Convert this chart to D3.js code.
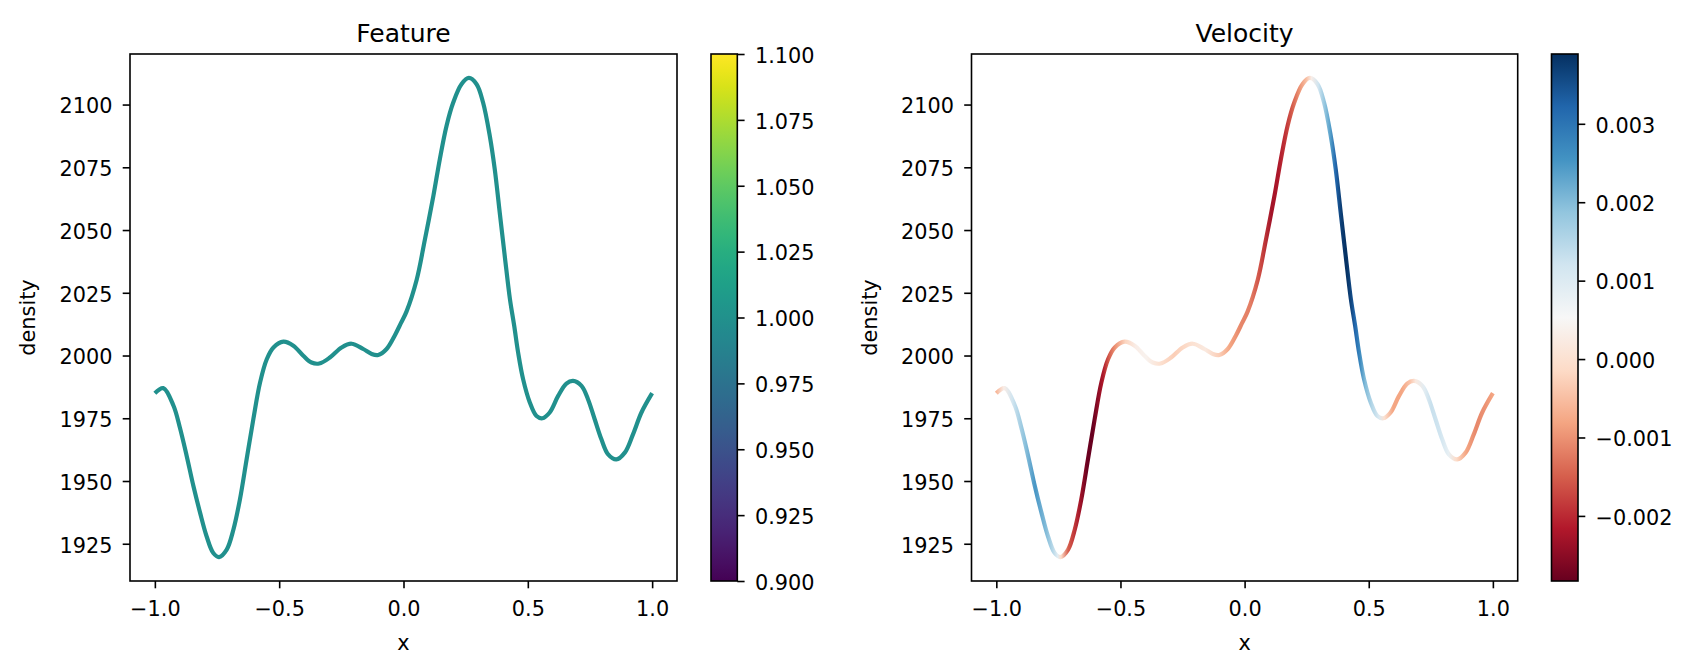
<!DOCTYPE html>
<html>
<head>
<meta charset="utf-8">
<script src="https://cdn.jsdelivr.net/npm/d3@7"></script>
<style>
  body { margin: 0; background: #fff; }
  svg { display: block; font-family: "DejaVu Sans", sans-serif; }
</style>
</head>
<body>
<script>
(function () {
  "use strict";

  // density profile
  var xs = [-1.000, -0.966, -0.925, -0.900, -0.872, -0.845, -0.818, -0.792, -0.765, -0.742,
            -0.711, -0.684, -0.658, -0.631, -0.604, -0.577, -0.550, -0.523, -0.483, -0.443,
            -0.403, -0.370, -0.339, -0.296, -0.249, -0.209, -0.162, -0.128, -0.102, -0.068,
            -0.035, -0.010, 0.012, 0.053, 0.086, 0.120, 0.146, 0.173, 0.200, 0.233,
            0.263, 0.294, 0.320, 0.347, 0.367, 0.387, 0.408, 0.428, 0.445, 0.461,
            0.481, 0.508, 0.535, 0.559, 0.588, 0.622, 0.655, 0.682, 0.716, 0.742,
            0.769, 0.796, 0.823, 0.856, 0.890, 0.923, 0.957, 1.000];
  var density = [1985.0, 1987.0, 1980.0, 1971.5, 1960.0, 1948.0, 1937.3, 1928.0, 1921.3, 1919.7,
                 1922.7, 1930.7, 1942.6, 1958.6, 1974.6, 1989.2, 1998.5, 2003.2, 2005.5, 2003.9,
                 1999.9, 1997.2, 1996.8, 1999.2, 2003.2, 2004.7, 2002.6, 2000.6, 2000.2, 2002.6,
                 2008.0, 2013.0, 2017.5, 2030.2, 2046.2, 2063.5, 2078.2, 2091.5, 2100.8, 2108.1,
                 2110.6, 2108.1, 2100.8, 2087.5, 2074.2, 2057.0, 2039.0, 2022.5, 2012.0, 2001.2,
                 1990.6, 1981.3, 1975.9, 1975.0, 1977.3, 1983.9, 1988.8, 1989.9, 1987.9, 1982.6,
                 1974.6, 1966.6, 1960.6, 1958.6, 1961.3, 1968.6, 1977.3, 1985.0];

  // velocity along x
  var velX = [-1.0, -0.97, -0.935, -0.886, -0.844, -0.80, -0.774, -0.753, -0.739, -0.711,
              -0.69, -0.662, -0.634, -0.613, -0.592, -0.571, -0.55, -0.522, -0.48, -0.438,
              -0.396, -0.34, -0.284, -0.214, -0.158, -0.102, -0.06, -0.018, 0.024, 0.066,
              0.108, 0.136, 0.164, 0.192, 0.22, 0.248, 0.269, 0.297, 0.325, 0.346,
              0.367, 0.388, 0.409, 0.43, 0.444, 0.465, 0.486, 0.514, 0.542, 0.563,
              0.598, 0.633, 0.668, 0.689, 0.724, 0.752, 0.787, 0.822, 0.852, 0.892,
              0.933, 0.968, 1.0];
  var velocity = [-0.0006, 0.0003, 0.0012, 0.0019, 0.0025, 0.0020, 0.0015, 0.0009, -0.0001, -0.0015,
                  -0.0018, -0.0023, -0.0028, -0.00283, -0.0025, -0.0022, -0.0016, -0.0010, -0.0002, 0.0003,
                  0.0004, 0.0000, -0.0003, 0.0000, 0.0002, -0.0003, -0.0008, -0.0011, -0.0012, -0.0017,
                  -0.0023, -0.0022, -0.0019, -0.0015, -0.0010, -0.0005, 0.0003, 0.0012, 0.0019, 0.0024,
                  0.0032, 0.0037, 0.00389, 0.0036, 0.0032, 0.0027, 0.0020, 0.0015, 0.0010, 0.0000,
                  -0.0008, -0.0008, -0.0004, 0.0002, 0.0009, 0.0013, 0.0012, 0.0008, -0.0001, -0.0008,
                  -0.0011, -0.0010, -0.0008];

  var featureValue = 1.0;
  var featureRange = [0.9, 1.1];

  var xTicks = [-1.0, -0.5, 0.0, 0.5, 1.0];
  var yTicks = [1925, 1950, 1975, 2000, 2025, 2050, 2075, 2100];
  var featureTicks = [0.9, 0.925, 0.95, 0.975, 1.0, 1.025, 1.05, 1.075, 1.1];
  var velocityTicks = [-0.002, -0.001, 0.0, 0.001, 0.002, 0.003];

  var rdbuColors = ["#67001f", "#b2182b", "#d6604d", "#f4a582", "#fddbc7", "#f7f7f7",
                    "#d1e5f0", "#92c5de", "#4393c3", "#2166ac", "#053061"];

  var W = 1699, H = 657,
      top = 54, bottom = 581,
      fs = 20.8, tick = 7.3, pad = 7.3;

  var svg = d3.select('body').append('svg')
      .attr('width', W)
      .attr('height', H);
  svg.append('rect').attr('width', W).attr('height', H).attr('fill', '#fff');
  var defs = svg.append('defs');

  var yPad = (d3.max(density) - d3.min(density)) * 0.05;
  var yDomain = [d3.min(density) - yPad, d3.max(density) + yPad];

  var velExtent = d3.extent(velocity);
  var rdbu = d3.scaleLinear()
      .domain(rdbuColors.map(function (c, i) { return velExtent[0] + i / 10 * (velExtent[1] - velExtent[0]); }))
      .range(rdbuColors)
      .interpolate(d3.interpolateRgb);
  var viridis = d3.scaleSequential(d3.interpolateViridis).domain(featureRange);

  function styleText(sel) {
    sel.attr('font-family', '"DejaVu Sans", sans-serif')
       .attr('font-size', fs)
       .attr('fill', '#000');
  }

  function panel(opt) {
    var g = svg.append('g').attr('transform', 'translate(' + opt.left + ',' + top + ')');
    var w = opt.right - opt.left, h = bottom - top;
    var x = d3.scaleLinear().domain([-1.1, 1.1]).range([0, w]);
    var y = d3.scaleLinear().domain(yDomain).range([h, 0]);

    // curve
    var line = d3.line()
        .x(function (d) { return x(d[0]); })
        .y(function (d) { return y(d[1]); })
        .curve(d3.curveCatmullRom.alpha(0.5));
    var pts = xs.map(function (v, i) { return [v, density[i]]; });

    var stroke;
    if (opt.gradient) {
      var lg = defs.append('linearGradient')
          .attr('id', opt.id + '-line')
          .attr('gradientUnits', 'userSpaceOnUse')
          .attr('x1', x(velX[0])).attr('y1', 0)
          .attr('x2', x(velX[velX.length - 1])).attr('y2', 0);
      var span = x(velX[velX.length - 1]) - x(velX[0]);
      velX.forEach(function (v, i) {
        lg.append('stop')
          .attr('offset', (x(v) - x(velX[0])) / span)
          .attr('stop-color', rdbu(velocity[i]));
      });
      stroke = 'url(#' + opt.id + '-line)';
    } else {
      stroke = viridis(featureValue);
    }
    g.append('path')
        .datum(pts)
        .attr('d', line)
        .attr('fill', 'none')
        .attr('stroke', stroke)
        .attr('stroke-width', 4.2)
        .attr('stroke-linejoin', 'round');

    // axes
    var ax = g.append('g').attr('transform', 'translate(0,' + h + ')')
        .call(d3.axisBottom(x).tickValues(xTicks).tickFormat(d3.format('.1f'))
              .tickSize(tick).tickPadding(pad));
    ax.selectAll('text').attr('y', 35).attr('dy', null);
    var ay = g.append('g')
        .call(d3.axisLeft(y).tickValues(yTicks).tickFormat(d3.format('d'))
              .tickSize(tick).tickPadding(pad + 3));
    ay.selectAll('text').attr('dy', '0.4em');
    [ax, ay].forEach(function (a) {
      a.select('.domain').remove();
      a.selectAll('line').attr('stroke', '#000').attr('stroke-width', 1.6);
      a.selectAll('text').call(styleText);
    });

    g.append('rect')
        .attr('width', w).attr('height', h)
        .attr('fill', 'none')
        .attr('stroke', '#000')
        .attr('stroke-width', 1.6);

    g.append('text')
        .attr('x', w / 2).attr('y', -12.5)
        .attr('text-anchor', 'middle')
        .call(styleText)
        .attr('font-size', 25)
        .text(opt.title);
    g.append('text')
        .attr('x', w / 2).attr('y', 650 - top)
        .attr('text-anchor', 'middle')
        .call(styleText)
        .text('x');
    g.append('text')
        .attr('transform', 'translate(-95,' + (h / 2) + ') rotate(-90)')
        .attr('text-anchor', 'middle')
        .call(styleText)
        .text('density');

    // colorbar
    var cb = svg.append('g').attr('transform', 'translate(' + opt.cbLeft + ',' + top + ')');
    var cw = opt.cbRight - opt.cbLeft;
    var cg = defs.append('linearGradient')
        .attr('id', opt.id + '-cb')
        .attr('x1', 0).attr('y1', 1).attr('x2', 0).attr('y2', 0);
    opt.cbStops.forEach(function (s) {
      cg.append('stop').attr('offset', s[0]).attr('stop-color', s[1]);
    });
    cb.append('rect')
        .attr('width', cw).attr('height', h)
        .attr('fill', 'url(#' + opt.id + '-cb)');
    var cy = d3.scaleLinear().domain(opt.cbDomain).range([h, 0]);
    var cax = cb.append('g').attr('transform', 'translate(' + cw + ',0)')
        .call(d3.axisRight(cy).tickValues(opt.cbTicks).tickFormat(d3.format('.3f'))
              .tickSize(tick).tickPadding(pad + 3));
    cax.select('.domain').remove();
    cax.selectAll('line').attr('stroke', '#000').attr('stroke-width', 1.6);
    cax.selectAll('text').call(styleText).attr('dy', '0.4em');
    cb.append('rect')
        .attr('width', cw).attr('height', h)
        .attr('fill', 'none')
        .attr('stroke', '#000')
        .attr('stroke-width', 1.6);
  }

  var viridisStops = d3.range(33).map(function (i) {
    return [i / 32, d3.interpolateViridis(i / 32)];
  });
  var rdbuStops = rdbuColors.map(function (c, i) { return [i / 10, c]; });

  panel({
    id: 'feature', title: 'Feature',
    left: 130, right: 677, cbLeft: 711, cbRight: 737.3,
    gradient: false,
    cbStops: viridisStops, cbDomain: featureRange, cbTicks: featureTicks
  });
  panel({
    id: 'velocity', title: 'Velocity',
    left: 971.5, right: 1517.7, cbLeft: 1551.5, cbRight: 1578,
    gradient: true,
    cbStops: rdbuStops, cbDomain: velExtent, cbTicks: velocityTicks
  });
}());
</script>
</body>
</html>
